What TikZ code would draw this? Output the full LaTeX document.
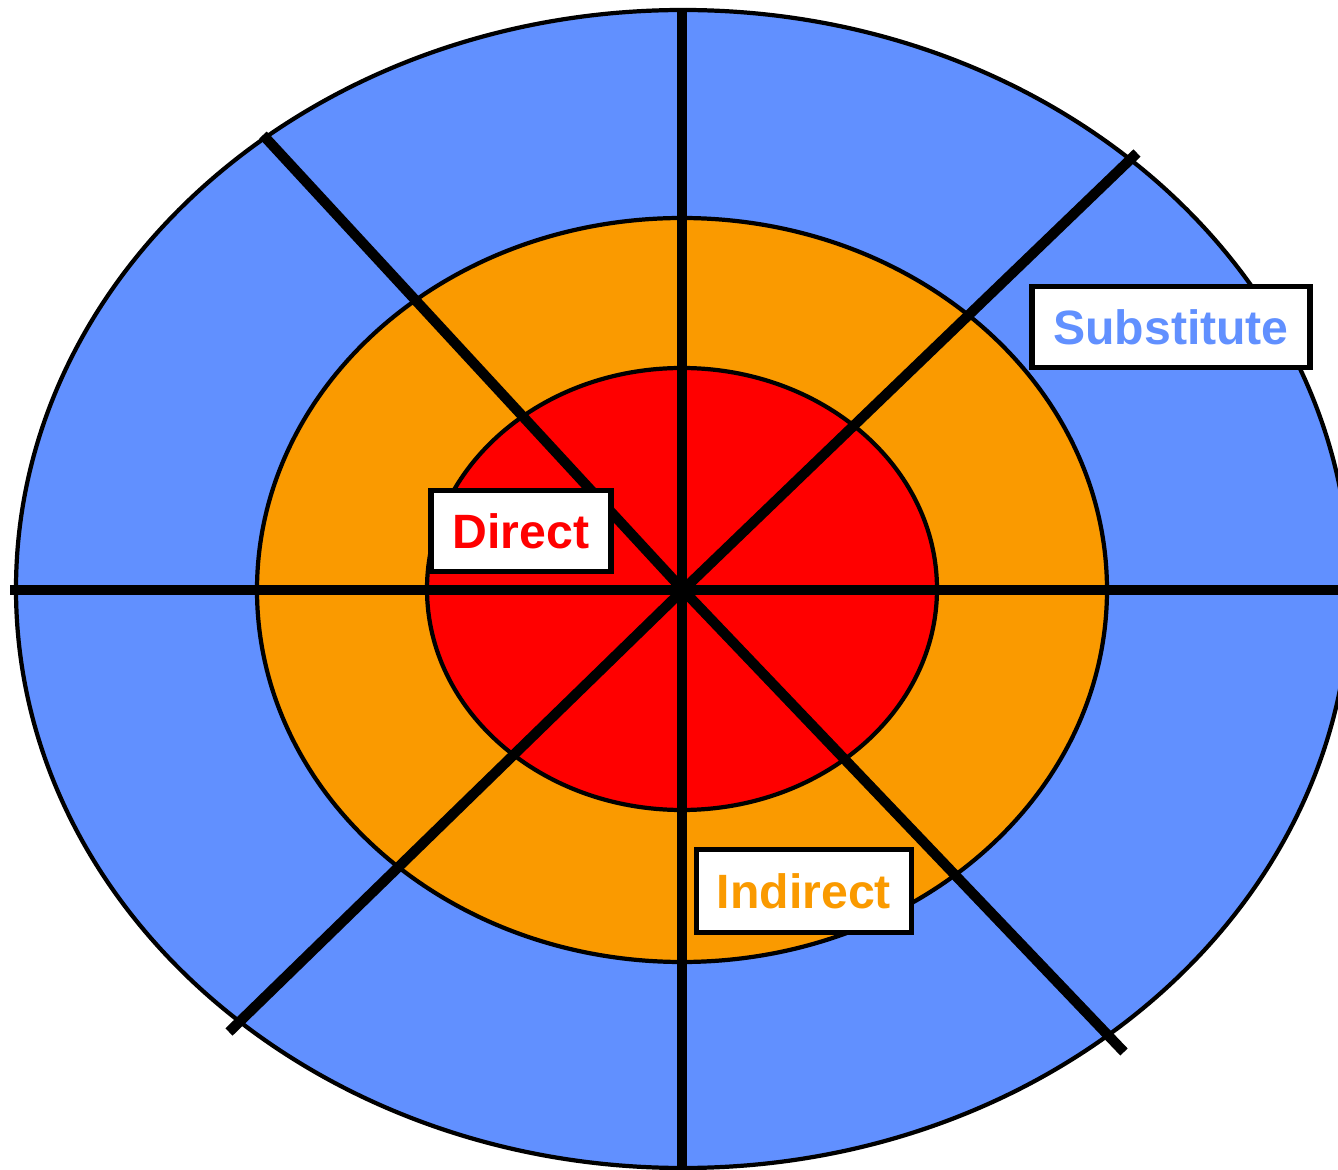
\documentclass[tikz,border=0pt]{standalone}
\usepackage{fontspec}
\setmainfont{Liberation Sans}
\definecolor{my_blue}{HTML}{6190FF}
\definecolor{my_orange}{HTML}{FA9A00}
\definecolor{my_red}{HTML}{FF0000}
\begin{document}
\begin{tikzpicture}[
    x=0.01cm, y=-0.01cm,
    ring/.style={draw=black, line width=1.2pt},
    spoke/.style={draw=black, line width=2.9pt, line cap=butt},
    labelbox/.style={draw=black, line width=1.5pt, fill=white, inner sep=0pt,
        minimum height=0.81cm, font=\fontsize{13.7pt}{16pt}\selectfont\bfseries}
]

% ==========================================================
% Koordinaten in Pixeln des Vorbilds (1338 x 1170),
% y-Achse nach unten, Mittelpunkt der Scheibe bei (683,590)
% ==========================================================
\useasboundingbox (0,0) rectangle (1338,1170);

% ----------------------------------------------------------
% Drei Ringe: aussen blau, Mitte orange, innen rot
% ----------------------------------------------------------
\filldraw[ring, fill=my_blue]   (683,589) ellipse [x radius=667, y radius=579];
\filldraw[ring, fill=my_orange] (682,590) ellipse [x radius=425, y radius=372];
\filldraw[ring, fill=my_red]    (682,589) ellipse [x radius=255, y radius=221];

% ----------------------------------------------------------
% Speichen (Achsen und Diagonalen) vom Mittelpunkt aus
% ----------------------------------------------------------
\coordinate (hub) at (683,590);
\draw[spoke] (10,590) -- (1345,590);
\draw[spoke] (682,8) -- (682,1175);
\foreach \ex/\ey in {263/135, 1124/1052, 1137/153, 229/1032} {
    \draw[spoke] (hub) -- (\ex,\ey);
}

% ----------------------------------------------------------
% Beschriftungen
% ----------------------------------------------------------
\node[labelbox, text=my_blue, minimum width=2.78cm]
    (substitute) at (1171,327) {Substitute};
\node[labelbox, text=my_red, minimum width=1.80cm]
    (direct) at (521,531) {Direct};
\node[labelbox, text=my_orange, minimum width=2.15cm, minimum height=0.83cm]
    (indirect) at (804,891) {Indirect};

\end{tikzpicture}
\end{document}
